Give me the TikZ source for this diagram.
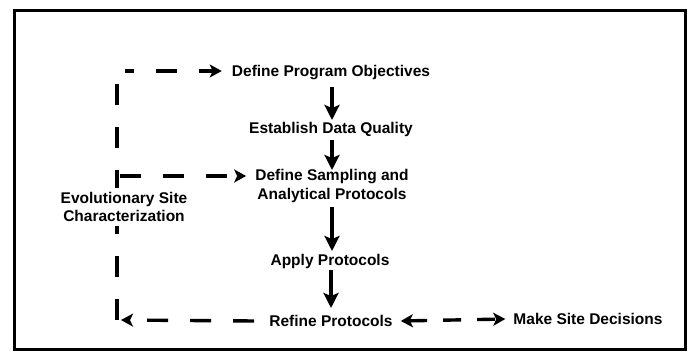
\documentclass[tikz,border=0pt]{standalone}
\usepackage{fontspec}
\setmainfont{Liberation Sans}
\usepackage{tikz}
\usetikzlibrary{arrows.meta, positioning, calc}

\begin{document}
\begin{tikzpicture}[
  x=1pt, y=-1pt,
  ptext/.style={font=\fontsize{15.5}{18.5}\selectfont\bfseries, align=center, inner sep=1pt},
  flowarrow/.style={line width=4pt, -{Stealth[length=15pt, width=15pt, inset=3pt]}},
  loopline/.style={line width=3.4pt, dash pattern=on 21pt off 22pt},
  looparrow/.style={loopline, -{Stealth[length=12pt, width=13pt, inset=3pt]}}
]
  \useasboundingbox (0,0) rectangle (690,358);
  \draw[line width=3pt] (14,11) rectangle (685,349);

  % main column
  \node[ptext] (obj) at (331, 73) {Define Program Objectives};
  \node[ptext] (dq) at (331, 129) {Establish Data Quality};
  \node[ptext] (samp) at (332, 186) {Define Sampling and\\Analytical Protocols};
  \node[ptext] (apply) at (330, 261) {Apply Protocols};
  \node[ptext] (refine) at (331, 321) {Refine Protocols};
  \node[ptext] (site) at (588, 319) {Make Site Decisions};

  \draw[flowarrow] (332, 87) -- (332, 120);
  \draw[flowarrow] (332, 140) -- (332, 170);
  \draw[flowarrow] (332, 207) -- (332, 251);
  \draw[flowarrow] (331, 270) -- (331, 308);

  % feedback loop
  \coordinate (tl) at (117, 71);
  \coordinate (ml) at (117, 176);
  \coordinate (bl) at (117, 320);
  \draw[loopline, line cap=butt] (bl) -- (tl) -- ($(tl)+(6,0)$);
  \node[ptext, fill=white, inner sep=4pt] (evo) at (124, 207) {Evolutionary Site\\Characterization};
  \draw[looparrow, dash phase=12pt] ($(tl)+(8,0)$) -- ([xshift=-9pt]obj.west |- tl);
  \draw[looparrow] ($(ml)+(3,0)$) -- ([xshift=-8pt]samp.west |- ml);
  \draw[looparrow] ([xshift=-14pt]refine.west) -- ($(bl)+(4,0)$);
  \draw[looparrow, {Stealth[length=12pt, width=13pt, inset=3pt]}-{Stealth[length=12pt, width=13pt, inset=3pt]}, dash pattern=on 18pt off 16pt] ([xshift=7pt]refine.east) -- ([xshift=-7pt]site.west);
\end{tikzpicture}
\end{document}
